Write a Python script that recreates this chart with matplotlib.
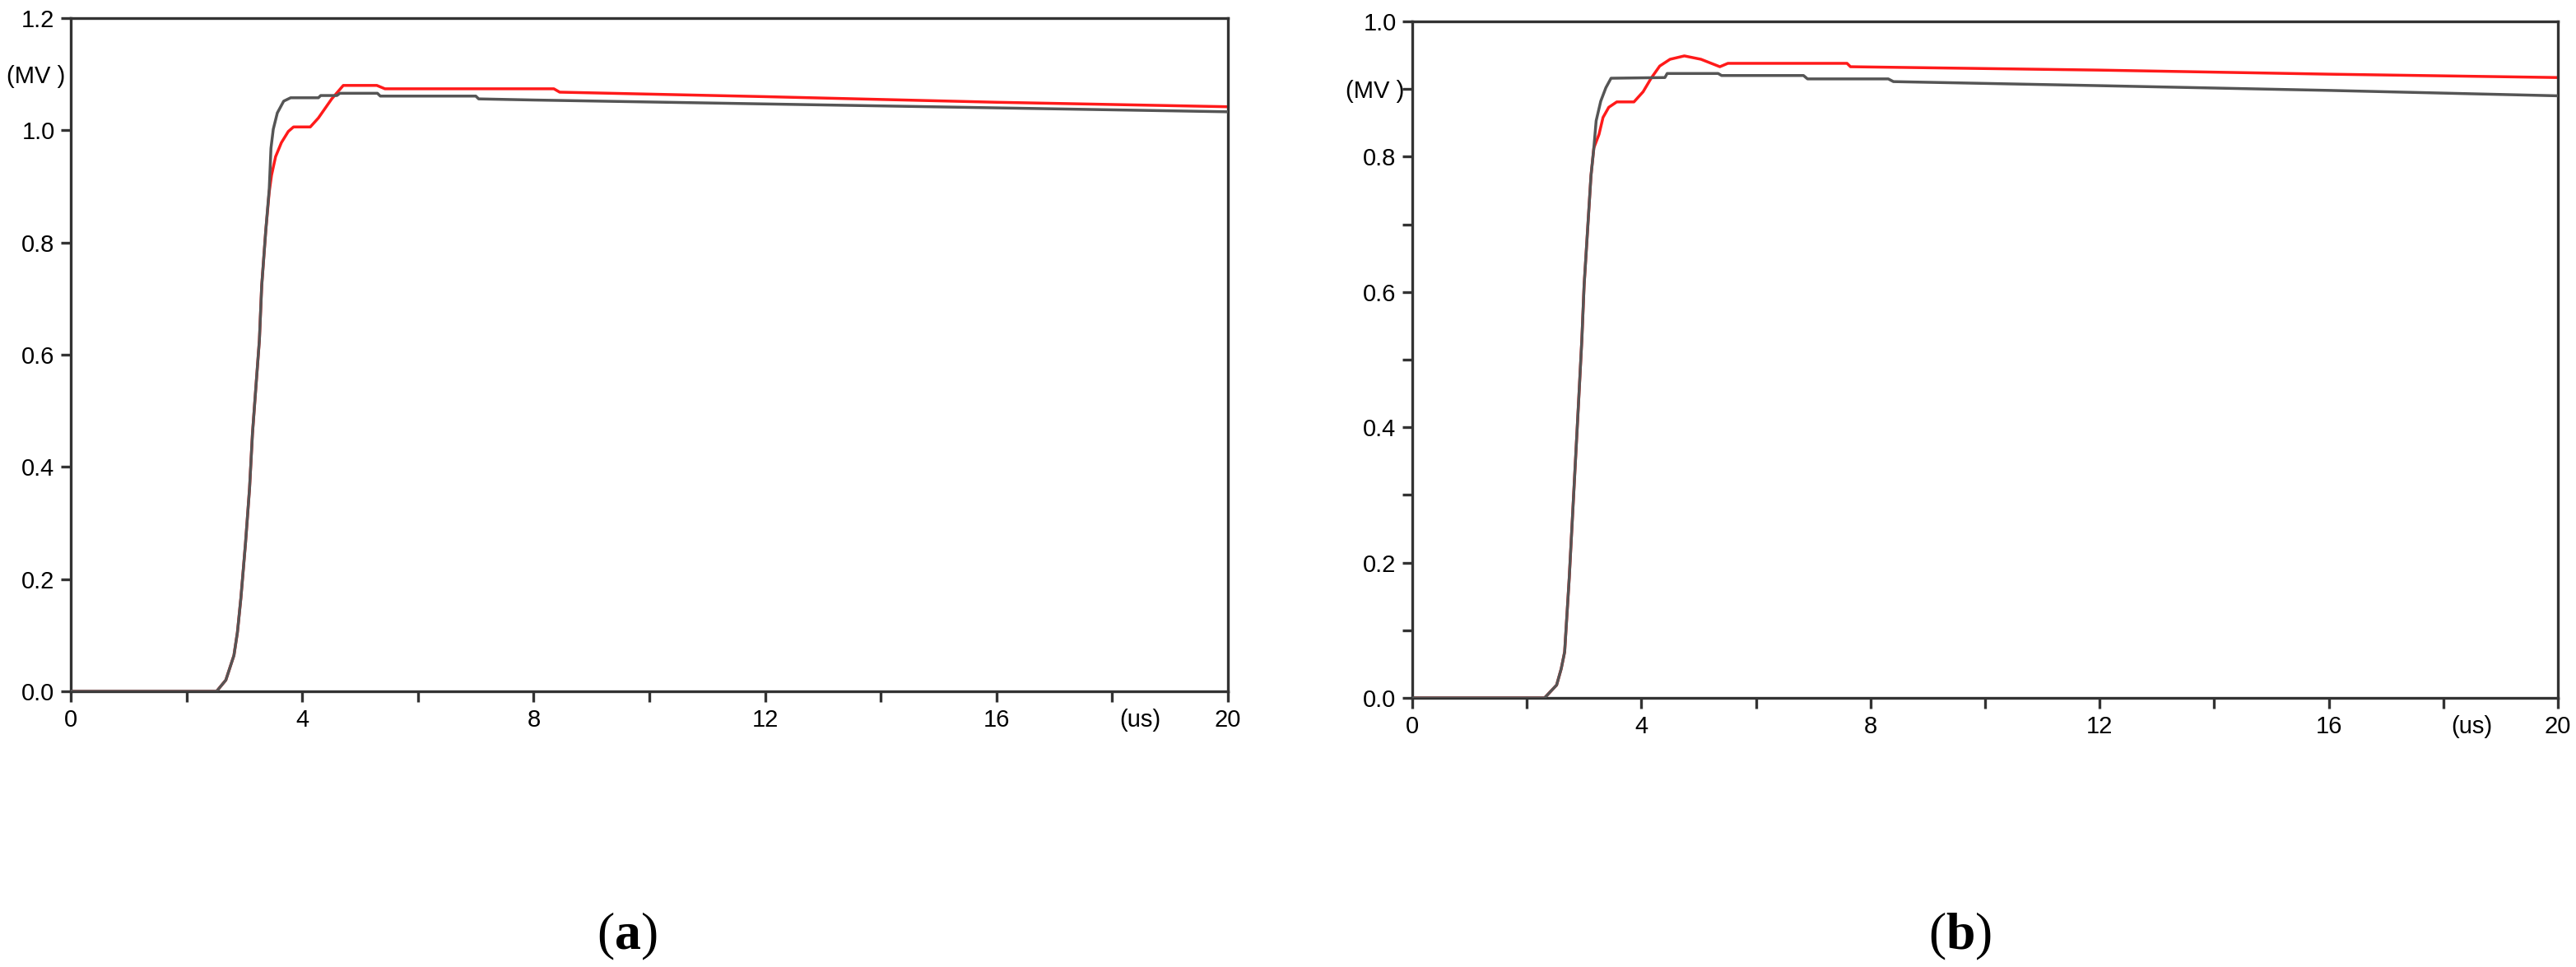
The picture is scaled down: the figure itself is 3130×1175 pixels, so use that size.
import matplotlib
matplotlib.use("Agg")
import matplotlib.pyplot as plt
import matplotlib.transforms as mtransforms
from matplotlib.ticker import FixedLocator, FixedFormatter

plt.rcParams['font.family'] = ['Liberation Sans', 'DejaVu Sans']
plt.rcParams['mathtext.fontset'] = 'custom'
plt.rcParams['mathtext.rm'] = 'Liberation Serif'
plt.rcParams['mathtext.bf'] = 'Liberation Serif:bold'

# (a) time in us, voltage in MV
a_black_t = [0, 2.52, 2.68, 2.82, 2.88, 2.94, 3.02, 3.09, 3.14, 3.21, 3.26, 3.30, 3.37, 3.43,
             3.46, 3.50, 3.57, 3.68, 3.80, 4.28, 4.32, 4.60, 4.65, 5.30, 5.35, 7.00, 7.05,
             8.0, 12.0, 16.0, 20.0]
a_black_v = [0, 0, 0.02, 0.064, 0.105, 0.166, 0.264, 0.362, 0.459, 0.557, 0.626, 0.723, 0.821, 0.895,
             0.968, 1.002, 1.031, 1.052, 1.058, 1.058, 1.062, 1.062, 1.066, 1.066, 1.061, 1.061, 1.056,
             1.054, 1.047, 1.040, 1.033]
a_red_t = [0, 2.52, 2.68, 2.82, 2.88, 2.94, 3.02, 3.09, 3.14, 3.21, 3.26, 3.30, 3.37, 3.43,
           3.47, 3.54, 3.64, 3.76, 3.85, 4.14, 4.28, 4.51, 4.71, 5.29, 5.43, 8.35, 8.45,
           12.0, 16.0, 20.0]
a_red_v = [0, 0, 0.02, 0.064, 0.105, 0.166, 0.264, 0.362, 0.459, 0.557, 0.626, 0.723, 0.821, 0.89,
           0.920, 0.953, 0.978, 0.998, 1.006, 1.006, 1.022, 1.056, 1.080, 1.080, 1.074, 1.074, 1.068,
           1.060, 1.050, 1.042]

# (b)
b_black_t = [0, 2.31, 2.52, 2.60, 2.66, 2.71, 2.74, 2.91, 2.96, 3.00, 3.06, 3.12, 3.17, 3.21,
             3.29, 3.38, 3.47, 4.41, 4.45, 5.34, 5.40, 6.83, 6.90, 8.31, 8.40, 12.0, 16.0, 20.0]
b_black_v = [0, 0, 0.019, 0.043, 0.068, 0.136, 0.177, 0.448, 0.529, 0.61, 0.691, 0.772, 0.813, 0.853,
             0.882, 0.902, 0.916, 0.917, 0.923, 0.923, 0.920, 0.920, 0.915, 0.915, 0.911, 0.905, 0.898, 0.890]
b_red_t = [0, 2.31, 2.52, 2.60, 2.66, 2.71, 2.74, 2.91, 2.96, 3.00, 3.06, 3.12, 3.17, 3.26,
           3.33, 3.43, 3.57, 3.87, 4.03, 4.17, 4.32, 4.50, 4.75, 5.04, 5.37, 5.51, 7.59, 7.65,
           12.0, 16.0, 20.0]
b_red_v = [0, 0, 0.019, 0.043, 0.068, 0.136, 0.177, 0.448, 0.529, 0.61, 0.691, 0.772, 0.813, 0.833,
           0.858, 0.873, 0.881, 0.881, 0.896, 0.916, 0.934, 0.944, 0.949, 0.944, 0.933, 0.938, 0.938, 0.933,
           0.928, 0.922, 0.917]

x_ticks = [0, 2, 4, 6, 8, 10, 12, 14, 16, 18, 20]
x_labels = ['0', '', '4', '', '8', '', '12', '', '16', '(us)', '20']

a_y_ticks = [0.0, 0.2, 0.4, 0.6, 0.8, 1.0, 1.2]
a_y_labels = ['0.0', '0.2', '0.4', '0.6', '0.8', '1.0', '1.2']
b_y_ticks = [0.0, 0.2, 0.4, 0.6, 0.8, 1.0]
b_y_labels = ['0.0', '0.2', '0.4', '0.6', '0.8', '1.0']
b_y_minor = [0.1, 0.3, 0.5, 0.7, 0.9]
b_y_minor_labels = ['', '', '', '', '(MV )']

W, H = 3130, 1175
fig = plt.figure(figsize=(W / 100, H / 100), dpi=100)
ax1 = fig.add_axes([86 / W, 1 - 840 / H, 1406 / W, 818 / H])
ax2 = fig.add_axes([1716 / W, 1 - 848 / H, 1392 / W, 822 / H])

gray = '#555555'
for ax, bt, bv, rt, rv, ymax in [(ax1, a_black_t, a_black_v, a_red_t, a_red_v, 1.2),
                                 (ax2, b_black_t, b_black_v, b_red_t, b_red_v, 1.0)]:
    ax.plot(rt, rv, color='#ff1a1a', lw=2.5, zorder=2)
    ax.plot(bt, bv, color=gray, lw=2.5, zorder=3)
    ax.set_xlim(0, 20)
    ax.set_ylim(0, ymax)
    ax.set_xticks(x_ticks)
    ax.set_xticklabels(x_labels)
    for s in ax.spines.values():
        s.set_linewidth(2.4)
        s.set_color('#333333')
    ax.tick_params(axis='both', which='both', direction='out', length=9, width=2.4,
                   color='#333333', labelsize=21, labelcolor='black')
    ax.tick_params(axis='x', pad=6)
    ax.tick_params(axis='y', pad=5)
    # the (us) label sits just right of its tick
    lab = ax.get_xticklabels()[9]
    lab.set_horizontalalignment('left')
    lab.set_transform(lab.get_transform() + mtransforms.ScaledTranslation(0.09, 0, fig.dpi_scale_trans))

ax1.set_yticks(a_y_ticks)
ax1.set_yticklabels(a_y_labels)
ax1.yaxis.set_minor_locator(FixedLocator([1.1]))
ax1.yaxis.set_minor_formatter(FixedFormatter(['(MV )']))
ax1.tick_params(axis='y', which='minor', length=0, pad=5)

ax2.set_yticks(b_y_ticks)
ax2.set_yticklabels(b_y_labels)
ax2.yaxis.set_minor_locator(FixedLocator(b_y_minor))
ax2.yaxis.set_minor_formatter(FixedFormatter(b_y_minor_labels))
ax2.tick_params(axis='y', which='minor', length=9, width=2.4, pad=-2)

fig.text(762 / W, 1 - 1138 / H, r'($\mathbf{a}$)', ha='center', va='center',
         fontsize=46, family='Liberation Serif')
fig.text(2382 / W, 1 - 1138 / H, r'($\mathbf{b}$)', ha='center', va='center',
         fontsize=46, family='Liberation Serif')

fig.savefig('out.png', dpi=100, facecolor='white')
